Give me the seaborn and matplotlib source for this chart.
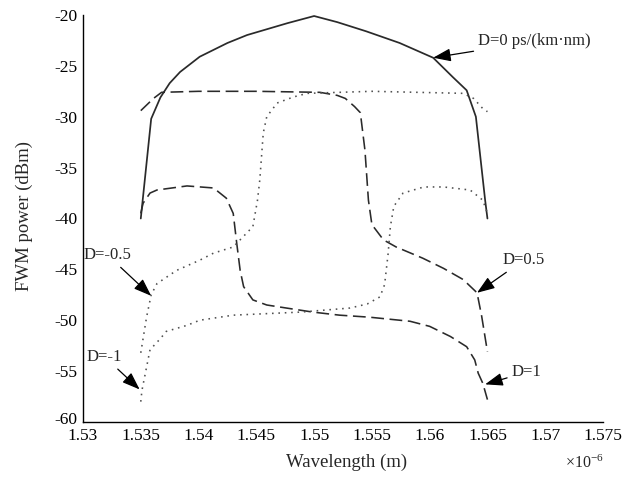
import matplotlib
matplotlib.use("Agg")
import matplotlib.pyplot as plt
import matplotlib.transforms as mtransforms
import seaborn as sns
import pandas as pd

# ---- data (wavelength in units of 1e-6 m, power in dBm) ----
x_d0 = [1.5350, 1.5359, 1.5367, 1.5375, 1.5384, 1.5401, 1.5425, 1.5442, 1.5477, 1.5500,
        1.5520, 1.5545, 1.5574, 1.5603, 1.5620, 1.5632, 1.5640, 1.5648, 1.5650]
y_d0 = [-40.0, -30.2, -28.1, -26.7, -25.6, -24.1, -22.75, -21.97, -20.8, -20.1,
        -20.7, -21.6, -22.75, -24.2, -26.1, -27.4, -30.0, -38.2, -40.0]

x_d05 = [1.5350, 1.5361, 1.5368, 1.5400, 1.5450, 1.5505, 1.5520, 1.5527, 1.5535, 1.5540,
         1.5544, 1.5547, 1.5550, 1.5560, 1.5571, 1.5594, 1.5612, 1.5629, 1.5641, 1.5645, 1.5650]
y_d05 = [-29.4, -28.2, -27.6, -27.5, -27.5, -27.6, -27.9, -28.2, -29.0, -29.6,
         -33.3, -38.2, -40.6, -42.1, -42.8, -43.9, -44.9, -46.0, -47.3, -49.6, -53.1]

x_d1 = [1.5350, 1.5352, 1.5358, 1.5364, 1.5390, 1.5413, 1.5424, 1.5430, 1.5433, 1.5436,
        1.5439, 1.5447, 1.5459, 1.5476, 1.5499, 1.5522, 1.5548, 1.5583, 1.5600, 1.5618,
        1.5632, 1.5639, 1.5642, 1.5646, 1.5650]
y_d1 = [-39.5, -38.5, -37.5, -37.2, -36.8, -37.0, -38.0, -39.5, -42.4, -45.1,
        -46.7, -48.0, -48.5, -48.8, -49.2, -49.5, -49.7, -50.1, -50.6, -51.6,
        -52.6, -53.9, -55.2, -56.2, -57.8]

x_dm05 = [1.5350, 1.5355, 1.5359, 1.5364, 1.5381, 1.5401, 1.5413, 1.5430, 1.5447, 1.5451,
          1.5453, 1.5456, 1.5459, 1.5468, 1.5482, 1.5494, 1.5550, 1.5629, 1.5638, 1.5646, 1.5650]
y_dm05 = [-53.2, -49.7, -47.5, -46.4, -45.1, -44.1, -43.4, -42.8, -40.8, -38.2,
          -36.2, -31.6, -30.0, -28.65, -28.06, -27.7, -27.5, -27.7, -28.2, -29.2, -29.5]

x_dm1 = [1.5350, 1.5351, 1.5358, 1.5367, 1.5372, 1.5390, 1.5401, 1.5430, 1.5488, 1.5531,
         1.5546, 1.5557, 1.5561, 1.5564, 1.5566, 1.5569, 1.5577, 1.5595, 1.5612, 1.5635,
         1.5646, 1.5650]
y_dm1 = [-58.0, -56.9, -52.9, -51.8, -51.1, -50.5, -50.0, -49.5, -49.2, -48.8,
         -48.4, -47.7, -46.5, -43.5, -40.8, -38.8, -37.5, -36.9, -36.9, -37.2,
         -38.2, -39.5]

x_ticks = [1.53, 1.535, 1.54, 1.545, 1.55, 1.555, 1.56, 1.565, 1.57, 1.575]
x_tick_labels = ["1.53", "1.535", "1.54", "1.545", "1.55", "1.555", "1.56", "1.565", "1.57", "1.575"]
y_ticks = [-60, -55, -50, -45, -40, -35, -30, -25, -20]
y_tick_labels = ["-60", "-55", "-50", "-45", "-40", "-35", "-30", "-25", "-20"]

# ---- style ----
sns.set_style("white")
plt.rcParams["font.family"] = ["Liberation Serif", "DejaVu Serif"]
plt.rcParams["axes.unicode_minus"] = False
plt.rcParams["mathtext.fontset"] = "custom"
plt.rcParams["mathtext.rm"] = "Liberation Serif"
plt.rcParams["mathtext.it"] = "Liberation Serif:italic"

fig = plt.figure(figsize=(6.25, 4.8), dpi=100)
ax = fig.add_axes([83 / 625, 1 - 422 / 480, 520 / 625, 407 / 480])

series = [
    (x_d0, y_d0, "-", "#2a2a2a", 1.25),
    (x_d05, y_d05, (0, (8, 3.5)), "#2a2a2a", 1.15),
    (x_d1, y_d1, (0, (8, 3.5)), "#2a2a2a", 1.15),
    (x_dm05, y_dm05, (0, (1, 3)), "#505050", 1.15),
    (x_dm1, y_dm1, (0, (1, 3)), "#505050", 1.15),
]
for xs, ys, ls, col, lw in series:
    df = pd.DataFrame({"x": xs, "y": ys})
    sns.lineplot(data=df, x="x", y="y", ax=ax, color=col, linestyle=ls,
                 linewidth=lw, sort=False, estimator=None)

ax.set_xlim(1.53, 1.575)
ax.set_ylim(-60, -20)
ax.set_xticks(x_ticks, x_tick_labels)
ax.set_yticks(y_ticks, y_tick_labels)
ax.tick_params(direction="in", length=5, width=1, labelsize=12.5, colors="black", pad=4)
ax.tick_params(axis="x", pad=4)
for s in ["top", "right"]:
    ax.spines[s].set_visible(False)
for s in ["left", "bottom"]:
    ax.spines[s].set_color("black")
    ax.spines[s].set_linewidth(1.0)

# nudge the lowest y tick label up a little so it sits above "1.53"
fig.canvas.draw()
ylabels = ax.get_yticklabels()
ylabels[0].set_transform(ylabels[0].get_transform() +
                         mtransforms.ScaledTranslation(0, 4 / 100, fig.dpi_scale_trans))

ax.set_xlabel("Wavelength (m)", fontsize=13.5)
ax.set_ylabel("FWM power (dBm)", fontsize=13.5)
ax.xaxis.set_label_coords(0.506, -0.079)
ax.yaxis.set_label_coords(-0.097, 0.506)

fig.text(565 / 625, 1 - 463 / 480, r"$\times\mathregular{10^{-6}}$", fontsize=11.5,
         ha="left", va="center")

arrow = dict(arrowstyle="-|>,head_length=0.6,head_width=0.22", color="black",
             lw=0.9, mutation_scale=18, shrinkA=1, shrinkB=0)
annots = [
    ("D=0 ps/(km\u00b7nm)", (1.5603, -24.2), (1.5642, -22.6), "left"),
    ("D=0.5", (1.5641, -47.3), (1.5663, -44.1), "left"),
    ("D=1", (1.5648, -56.3), (1.5671, -55.1), "left"),
    ("D=-0.5", (1.5359, -47.6), (1.5342, -43.6), "right"),
    ("D=-1", (1.5349, -56.8), (1.5334, -53.6), "right"),
]
for txt, xy, xytext, ha in annots:
    ax.annotate(txt, xy=xy, xytext=xytext, ha=ha, va="center", fontsize=12,
                arrowprops=arrow)

fig.savefig("out.png", dpi=100)
